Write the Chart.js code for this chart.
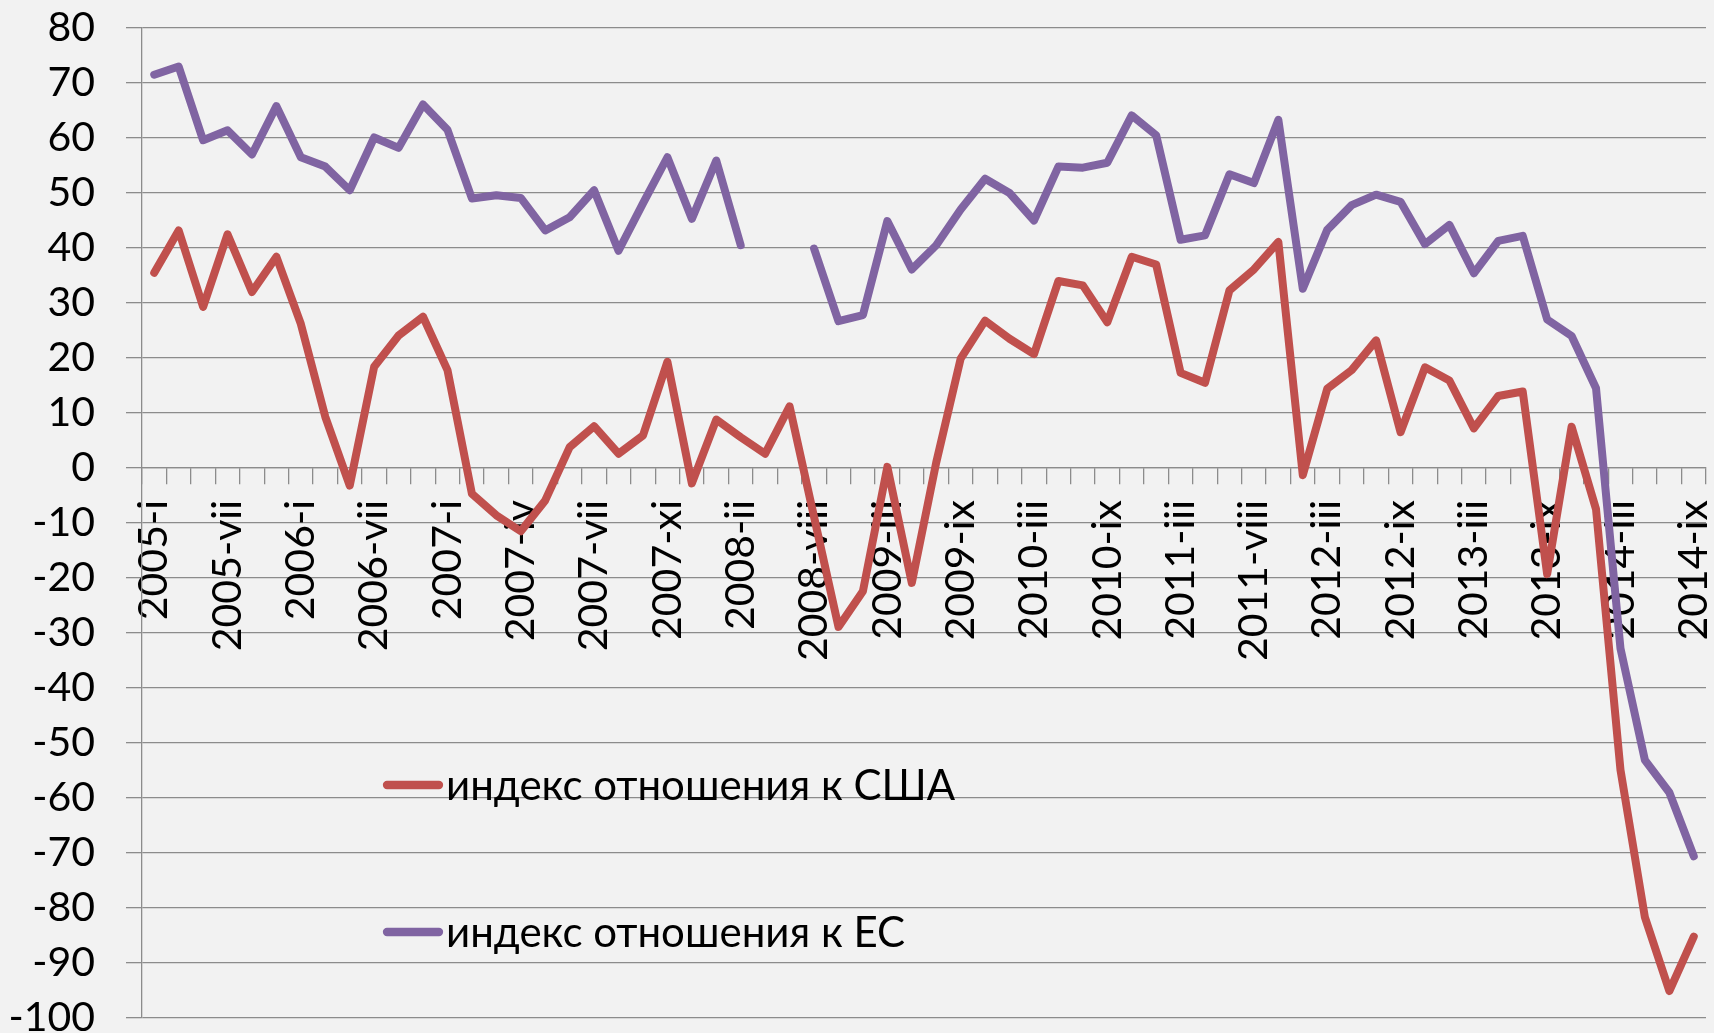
<!DOCTYPE html>
<html>
<head>
<meta charset="utf-8">
<script src="https://cdn.jsdelivr.net/npm/chart.js@4.4.1/dist/chart.umd.min.js"></script>
<style>
  html, body { margin: 0; padding: 0; background: #f2f2f2; }
  #wrap { width: 1714px; height: 1033px; }
</style>
</head>
<body>
<div id="wrap"><canvas id="chart" width="1714" height="1033"></canvas></div>
<script>
// периоды опросов (подписи показываются через две)
const periods = [
  "2005-i", "2005-iii", "2005-v", "2005-vii", "2005-ix", "2005-xi",
  "2006-i", "2006-iii", "2006-v", "2006-vii", "2006-ix", "2006-xi",
  "2007-i", "2007-ii", "2007-iii", "2007-iv", "2007-v", "2007-vi",
  "2007-vii", "2007-viii", "2007-ix", "2007-xi", "2007-xii", "2008-i",
  "2008-ii", "2008-iv", "2008-vi", "2008-viii", "2008-x", "2008-xii",
  "2009-iii", "2009-v", "2009-vii", "2009-ix", "2009-xi", "2010-i",
  "2010-iii", "2010-v", "2010-vii", "2010-ix", "2010-xi", "2011-i",
  "2011-iii", "2011-v", "2011-vi", "2011-viii", "2011-x", "2012-i",
  "2012-iii", "2012-v", "2012-vii", "2012-ix", "2012-xi", "2013-i",
  "2013-iii", "2013-v", "2013-vii", "2013-ix", "2013-xi", "2014-i",
  "2014-iii", "2014-v", "2014-vii", "2014-ix"
];

const usaIndex = [
  35.5, 43.2, 29.3, 42.5, 32.0, 38.4,
  26.2, 9.3, -3.2, 18.4, 24.1, 27.5,
  17.8, -4.7, -8.6, -11.5, -5.9, 3.8,
  7.6, 2.6, 5.9, 19.3, -2.8, 8.8,
  5.6, 2.6, 11.2, -8.9, -28.9, -22.4,
  0.2, -20.9, 1.0, 19.9, 26.8, 23.5,
  20.7, 34.0, 33.2, 26.5, 38.4, 37.0,
  17.3, 15.5, 32.3, 36.1, 41.1, -1.3,
  14.4, 17.8, 23.2, 6.5, 18.3, 15.9,
  7.2, 13.1, 13.9, -19.3, 7.5, -7.5,
  -54.9, -81.7, -95.1, -85.2
];

const euIndex = [
  71.5, 73.0, 59.6, 61.4, 57.0, 65.8,
  56.5, 54.8, 50.5, 60.1, 58.2, 66.1,
  61.5, 49.0, 49.6, 49.1, 43.2, 45.6,
  50.5, 39.5, 48.1, 56.5, 45.3, 55.9,
  40.5, null, null, 39.9, 26.7, 27.8,
  44.9, 36.1, 40.5, 47.0, 52.6, 50.0,
  45.0, 54.8, 54.6, 55.5, 64.1, 60.5,
  41.5, 42.3, 53.4, 51.8, 63.3, 32.6,
  43.3, 47.8, 49.7, 48.4, 40.7, 44.2,
  35.4, 41.3, 42.2, 27.0, 24.0, 14.5,
  -32.8, -53.1, -59.0, -70.6
];

const seriesNames = ["индекс отношения к США", "индекс отношения к ЕС"];

const FONT = "Lato, 'Open Sans', sans-serif";
const gridColor = "#8c8c8c";

// легенда внутри области графика, как в Excel
const innerLegend = {
  id: "innerLegend",
  afterDraw(chart) {
    const ctx = chart.ctx;
    const rows = [785, 932];
    ctx.save();
    chart.data.datasets.forEach((ds, i) => {
      const y = rows[i];
      ctx.strokeStyle = ds.borderColor;
      ctx.lineWidth = 8.3;
      ctx.lineCap = "round";
      ctx.beginPath();
      ctx.moveTo(387, y);
      ctx.lineTo(439, y);
      ctx.stroke();
      ctx.fillStyle = "#000";
      ctx.font = "42px " + FONT;
      ctx.textBaseline = "middle";
      ctx.fillText(ds.label, 446, y + 1);
    });
    ctx.restore();
  }
};

new Chart(document.getElementById("chart"), {
  type: "line",
  data: {
    labels: periods,
    datasets: [
      {
        label: seriesNames[0],
        data: usaIndex,
        borderColor: "#c0504d",
        borderWidth: 8,
        pointRadius: 0,
        borderJoinStyle: "round",
        borderCapStyle: "round",
        tension: 0
      },
      {
        label: seriesNames[1],
        data: euIndex,
        borderColor: "#8064a2",
        borderWidth: 8,
        pointRadius: 0,
        borderJoinStyle: "round",
        borderCapStyle: "round",
        spanGaps: false,
        tension: 0
      }
    ]
  },
  options: {
    responsive: false,
    animation: false,
    devicePixelRatio: 1,
    layout: { padding: { left: 0, top: 28, right: 8, bottom: 15 } },
    plugins: {
      legend: { display: false },
      tooltip: { enabled: false }
    },
    scales: {
      x: {
        type: "category",
        position: { y: 0 },
        offset: true,
        grid: {
          offset: true,
          drawOnChartArea: false,
          drawTicks: true,
          tickLength: 16,
          color: gridColor,
          lineWidth: 1.3
        },
        border: { display: true, color: gridColor, width: 1.3 },
        ticks: {
          autoSkip: false,
          maxRotation: 90,
          minRotation: 90,
          padding: 16,
          color: "#000",
          font: { family: FONT, size: 41 },
          callback: (v, i) => (i % 3 === 0 ? periods[i] : "")
        },
        afterFit: (s) => {
          s.height = 0;
          s.paddingLeft = 0;
          s.paddingRight = 0;
        }
      },
      y: {
        min: -100,
        max: 80,
        grid: {
          color: gridColor,
          lineWidth: 1.3,
          drawTicks: true,
          tickLength: 16
        },
        border: { display: true, color: gridColor, width: 1.3 },
        ticks: {
          stepSize: 10,
          padding: 31,
          color: "#000",
          font: { family: FONT, size: 41 }
        },
        afterFit: (s) => {
          s.width = 142;
          s.paddingTop = 0;
          s.paddingBottom = 0;
        }
      }
    }
  },
  plugins: [innerLegend]
});
</script>
</body>
</html>
